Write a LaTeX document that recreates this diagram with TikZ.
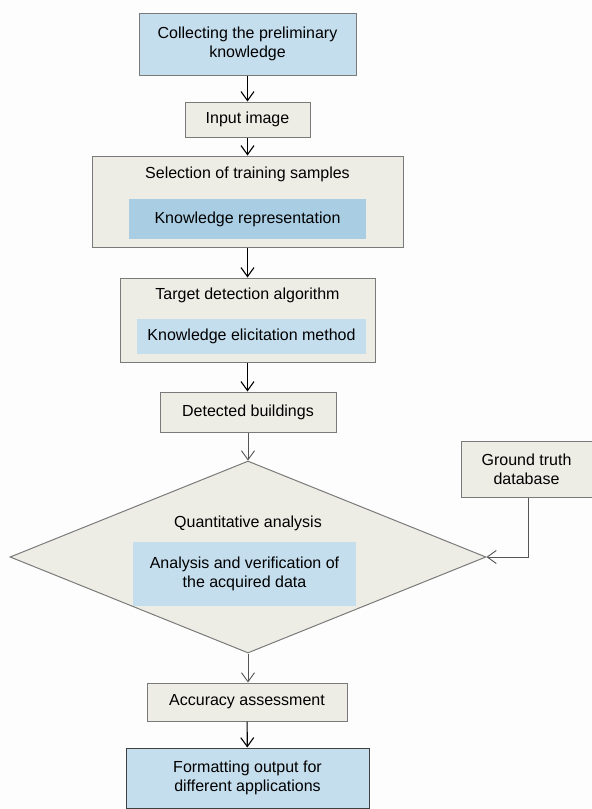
\documentclass[tikz,border=0pt]{standalone}
\usepackage{fontspec}
\setmainfont{Liberation Sans}
\usetikzlibrary{shapes.geometric,arrows.meta}
\definecolor{beige}{HTML}{EEEDE5}
\definecolor{lblue}{HTML}{C5DEEE}
\definecolor{mblue}{HTML}{A9CEE4}
\definecolor{edgegray}{HTML}{7A7A7A}
\definecolor{arrgray}{HTML}{555555}
\begin{document}
\begin{tikzpicture}[x=1pt,y=-1pt,
  every node/.style={font=\fontsize{16}{19}\selectfont},
  box/.style={draw=edgegray, line width=1pt, fill=beige, inner sep=0pt, align=center},
  bluebox/.style={draw=edgegray, line width=1pt, fill=lblue, inner sep=0pt, align=center},
  inbox/.style={fill=lblue, inner sep=0pt, align=center},
  lbl/.style={inner sep=0pt, align=center},
  darrow/.style={draw=black, line width=1.1pt, -{Straight Barb[length=9pt,width=13pt,line width=1.1pt]}},
  garrow/.style={draw=arrgray, line width=0.9pt, -{Straight Barb[length=9pt,width=13pt,line width=0.9pt]}}
]
\useasboundingbox[fill={rgb,255:red,253;green,253;blue,253}] (0,0) rectangle (592,809);

% Box 1
\node[bluebox, minimum width=217pt, minimum height=62pt] (b1) at (247.5,44) {Collecting the preliminary\\knowledge};
% Box 2
\node[box, minimum width=125pt, minimum height=35pt] (b2) at (247.5,119.5) {Input image};
% Box 3
\node[box, minimum width=311pt, minimum height=91pt] (b3) at (247.5,201.5) {};
\node[lbl] (b3t) at (247.5,174) {Selection of training samples};
\node[inbox, fill=mblue, minimum width=237pt, minimum height=40pt] (b3i) at (247.5,219) {Knowledge representation};
% Box 4
\node[box, minimum width=255pt, minimum height=84pt] (b4) at (247.5,320) {};
\node[lbl] (b4t) at (247.5,295) {Target detection algorithm};
\node[inbox, minimum width=229pt, minimum height=35pt] (b4i) at (251.5,336.5) {Knowledge elicitation method};
% Box 5
\node[box, minimum width=176pt, minimum height=40pt] (b5) at (248,412) {Detected buildings};
% Diamond
\node[draw=edgegray, line width=1pt, fill=beige, diamond, inner sep=0pt, minimum width=476pt, minimum height=192pt] (dia) at (248,557) {};
\node[lbl] (diat) at (248,523) {Quantitative analysis};
\node[inbox, minimum width=223pt, minimum height=64pt] (diai) at (244.5,574) {Analysis and verification of\\the acquired data};
% Ground truth
\node[box, minimum width=131pt, minimum height=56pt] (gt) at (526.5,469) {Ground truth\\database};
\coordinate (gtc) at (528,557);
% Accuracy
\node[box, minimum width=200pt, minimum height=38pt] (acc) at (247,702) {Accuracy assessment};
% Final
\node[bluebox, draw=black!75, minimum width=243pt, minimum height=60pt] (fin) at (247.5,778) {Formatting output for\\different applications};

% Arrows
\draw[darrow] (b1) -- (b2);
\draw[darrow] (b2) -- (b3);
\draw[darrow] (b3) -- (b4);
\draw[darrow] (b4.south) -- (b5.north -| b4.south);
\draw[garrow] (b5) -- (dia.north);
\draw[garrow] (dia.south) -- (acc.north -| dia.south);
\draw[darrow] (acc) -- (fin);
\draw[garrow] (gt.south -| gtc) -- (gtc) -- (dia.east);
\end{tikzpicture}
\end{document}
